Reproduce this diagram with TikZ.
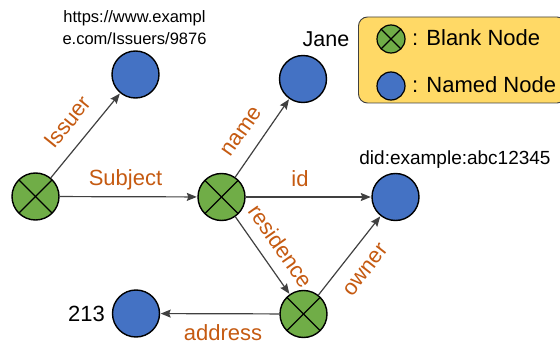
\documentclass[tikz,border=0pt]{standalone}
\usepackage{fontspec}
\setmainfont{Liberation Sans}
\usetikzlibrary{arrows.meta}
\definecolor{nblue}{HTML}{4472C4}
\definecolor{ngreen}{HTML}{70AD47}
\definecolor{lbl}{HTML}{C55A11}
\definecolor{legfill}{HTML}{FFD966}
\definecolor{edgecol}{HTML}{404040}
\tikzset{
  named/.style={circle, draw=black, line width=1.4pt, fill=nblue, minimum size=#1, inner sep=0pt},
  named/.default=47pt,
  blank/.style={circle, draw=black, line width=1.4pt, fill=ngreen, minimum size=#1, inner sep=0pt,
    path picture={\draw[black, line width=1.4pt] (path picture bounding box.north west) -- (path picture bounding box.south east);
                  \draw[black, line width=1.4pt] (path picture bounding box.north east) -- (path picture bounding box.south west);}},
  blank/.default=47pt,
  conn/.style={draw=edgecol, line width=1.2pt, -{Stealth[length=10pt,width=8pt,inset=1.5pt]}, shorten >=0.5pt},
  elabel/.style={text=lbl, font=\fontsize{22}{26}\selectfont, inner sep=0pt},
  tlabel/.style={text=black, inner sep=0pt},
}
\begin{document}
\begin{tikzpicture}[x=1pt,y=-1pt]
\useasboundingbox (0,0) rectangle (560,342);
% legend
\path[fill=legfill, draw=black!75, line width=0.9pt, rounded corners=9pt] (358.5,17) rectangle (566,103);
\node[blank=28pt, line width=1.2pt] (lb) at (391,39) {};
\node[named=28pt, line width=1.2pt] (ln) at (391,86) {};
\node[tlabel, anchor=west, font=\fontsize{22}{26}\selectfont] (lbt) at (412,38) {: Blank Node};
\node[tlabel, anchor=west, font=\fontsize{22}{26}\selectfont] (lnt) at (412,85) {: Named Node};
% nodes
\node[blank] (s) at (35.5,196.5) {};
\node[named] (iss) at (135.5,74.5) {};
\node[blank] (m) at (221.5,197) {};
\node[named] (jane) at (303,79) {};
\node[named] (did) at (395.5,197) {};
\node[blank] (r) at (303.5,314) {};
\node[named] (n213) at (136,313.5) {};
% text labels
\node[tlabel, align=center, font=\fontsize{16.5}{21.5}\selectfont] (url) at (134.5,27.5) {https://www.exampl\\e.com/Issuers/9876};
\node[tlabel, font=\fontsize{21.5}{25}\selectfont] (janet) at (326,39) {Jane};
\node[tlabel, font=\fontsize{19}{23}\selectfont] (didt) at (455,160) {did:example:abc12345};
\node[tlabel, font=\fontsize{22}{26}\selectfont] (t213) at (86.5,314) {213};
% connectors
\draw[conn] (s) -- (iss);
\draw[conn] (s) -- (m);
\draw[conn] (m) -- (jane);
\draw[conn] (m) -- (did);
\draw[conn] (m) -- (r);
\draw[conn] (r) -- (did);
\draw[conn] (r) -- (n213);
% edge labels
\node[elabel] (lsub) at (125.5,180) {Subject};
\node[elabel, rotate=51] (liss) at (67.5,122) {Issuer};
\node[elabel, rotate=55] (lname) at (242,132) {name};
\node[elabel] (lid) at (300,179) {id};
\node[elabel, rotate=-55] (lres) at (281,246) {residence};
\node[elabel, rotate=52] (lown) at (366,270) {owner};
\node[elabel] (ladd) at (223,332.5) {address};
\end{tikzpicture}
\end{document}
